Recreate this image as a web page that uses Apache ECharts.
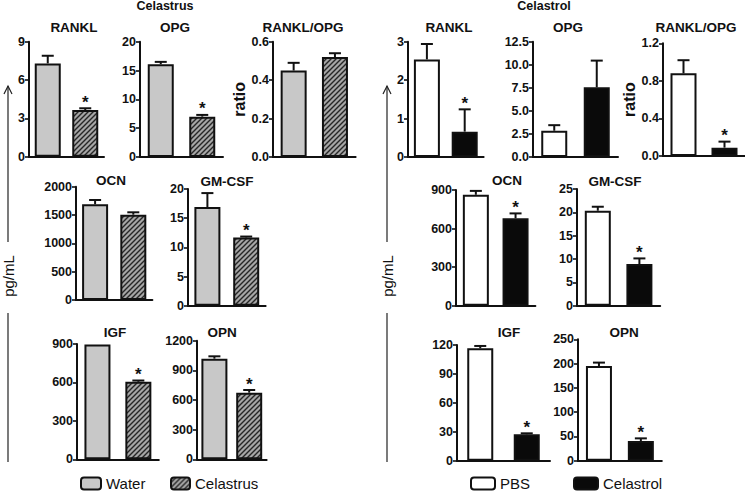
<!DOCTYPE html>
<html><head><meta charset="utf-8">
<script src="https://cdn.jsdelivr.net/npm/echarts@6/dist/echarts.min.js"></script>
<style>html,body{margin:0;padding:0;background:#fff}#c{width:745px;height:491px}</style>
</head><body><div id="c"></div>
<script>
// ---------------- DATA ----------------
const panelNames = ['RANKL', 'OPG', 'RANKL/OPG', 'OCN', 'GM-CSF', 'IGF', 'OPN'];
const leftHeader = 'Celastrus';
const rightHeader = 'Celastrol';
const leftGroups = ['Water', 'Celastrus'];
const rightGroups = ['PBS', 'Celastrol'];

const waterMean     = [7.3, 16.1, 0.45, 1690, 16.9, 897, 1018];
const waterSEM      = [0.6, 0.4, 0.04, 75, 2.4, 0, 24];
const celastrusMean = [3.65, 7.0, 0.52, 1506, 11.7, 605, 674];
const celastrusSEM  = [0.14, 0.3, 0.02, 42, 0.15, 10, 27];
const celastrusSig  = ['*', '*', '', '', '*', '*', '*'];
const leftAxisMax   = [9, 20, 0.6, 2000, 20, 900, 1200];
const leftAxisStep  = [3, 5, 0.2, 500, 5, 300, 300];

const pbsMean       = [2.54, 2.85, 0.88, 863, 20.35, 116.6, 195];
const pbsSEM        = [0.4, 0.6, 0.14, 30, 0.85, 2.4, 7];
const celastrolMean = [0.66, 7.55, 0.089, 680, 8.93, 27.4, 40.6];
const celastrolSEM  = [0.58, 2.9, 0.064, 38, 1.2, 1, 5.4];
const celastrolSig  = ['*', '', '*', '*', '*', '*', '*'];
const rightAxisMax  = [3, 12.5, 1.2, 900, 25, 120, 250];
const rightAxisStep = [1, 2.5, 0.4, 300, 5, 30, 50];

const ratioAxisName = 'ratio';
const unitLabel = 'pg/mL';

// ---------------- LAYOUT (pixels) ----------------
// [left, top, width, height] of each panel's plot area
const leftGrids = [
  [29, 41.7, 75, 115], [140, 41.7, 83, 115.3], [273, 41.7, 82.6, 115.3],
  [76, 186.7, 76.4, 113.3], [188, 189, 77.6, 116.7],
  [77, 344, 81.8, 115.3], [197, 340.7, 69.6, 118.6]
];
const rightGrids = [
  [408, 41.7, 75.6, 115.3], [533, 41.7, 85, 115.3], [663, 43.3, 82, 112.7],
  [456, 190, 79.4, 115.7], [577, 189, 83.2, 116.7],
  [457, 345, 93, 115.7], [578, 339.3, 83.8, 121.4]
];
const leftTitlePos = [[74, 27], [175, 27], [303, 27], [111, 180], [227, 181], [115, 332], [222, 332]];
const rightTitlePos = [[449, 27], [568, 27], [696, 27], [507, 180], [615, 181], [509, 332], [624, 332]];

// ---------------- STYLES ----------------
const INK = '#111';
const FONT = '"Liberation Sans", Arial, Helvetica, sans-serif';

function hatchCanvas() {
  const s = 5, c = document.createElement('canvas');
  c.width = s; c.height = s;
  const g = c.getContext('2d');
  g.fillStyle = '#a6a6a6'; g.fillRect(0, 0, s, s);
  g.strokeStyle = '#262626'; g.lineWidth = 1.4;
  g.beginPath();
  g.moveTo(-1, s + 1); g.lineTo(s + 1, -1);
  g.moveTo(-1, 1); g.lineTo(1, -1);
  g.moveTo(s - 1, s + 1); g.lineTo(s + 1, s - 1);
  g.stroke();
  return c;
}
const hatchFill = { image: hatchCanvas(), repeat: 'repeat' };

const sides = [
  { groups: leftGroups, means: [waterMean, celastrusMean], sems: [waterSEM, celastrusSEM], sig: celastrusSig,
    max: leftAxisMax, step: leftAxisStep, grids: leftGrids, titles: leftTitlePos,
    fills: ['#c8c8c8', hatchFill] },
  { groups: rightGroups, means: [pbsMean, celastrolMean], sems: [pbsSEM, celastrolSEM], sig: celastrolSig,
    max: rightAxisMax, step: rightAxisStep, grids: rightGrids, titles: rightTitlePos,
    fills: ['#ffffff', '#0a0a0a'] }
];

function renderErr(params, api) {
  const x = api.value(0), m = api.value(1), e = api.value(2);
  const star = params.dataIndex === 1 ? api.value(3) : 0;
  const p0 = api.coord([x, m]);
  const p1 = api.coord([x, m + e]);
  const half = 6;
  const children = [];
  if (e > 0) {
    children.push({ type: 'line', shape: { x1: p0[0], y1: p0[1], x2: p1[0], y2: p1[1] }, style: { stroke: INK, lineWidth: 2 } });
    children.push({ type: 'line', shape: { x1: p1[0] - half, y1: p1[1], x2: p1[0] + half, y2: p1[1] }, style: { stroke: INK, lineWidth: 2 } });
  }
  if (star) {
    children.push({ type: 'text', style: { text: '*', x: p1[0], y: p1[1] - 6, align: 'center', verticalAlign: 'middle',
      fontSize: 17, fontWeight: 'bold', fontFamily: FONT, fill: INK } });
  }
  return { type: 'group', children };
}

const grid = [], xAxis = [], yAxis = [], series = [], graphic = [];
let gi = 0;
sides.forEach(side => {
  panelNames.forEach((name, i) => {
    const g = side.grids[i];
    grid.push({ left: g[0], top: g[1], width: g[2], height: g[3], containLabel: false, outerBoundsMode: 'none' });
    xAxis.push({ gridIndex: gi, type: 'category', data: side.groups, boundaryGap: true,
      axisLine: { show: true, lineStyle: { color: INK, width: 2 } },
      axisTick: { show: false }, axisLabel: { show: false }, splitLine: { show: false } });
    const step = side.step[i];
    const isRatio = name === 'RANKL/OPG';
    yAxis.push({ gridIndex: gi, type: 'value', min: 0, max: side.max[i], interval: step,
      name: isRatio ? ratioAxisName : '', nameLocation: 'middle', nameGap: 21, nameRotate: 90,
      nameTextStyle: { fontFamily: FONT, fontWeight: 'bold', fontSize: 16, color: INK },
      axisLine: { show: true, lineStyle: { color: INK, width: 2 } },
      axisTick: { show: true, length: 4, lineStyle: { color: INK, width: 1.6 } },
      axisLabel: { margin: 4, fontFamily: FONT, fontWeight: 'bold', fontSize: 12.5, color: INK,
        formatter: v => (step % 1 !== 0) ? v.toFixed(1) : String(v) },
      splitLine: { show: false } });
    side.groups.forEach((grp, k) => {
      series.push({ type: 'bar', name: grp, xAxisIndex: gi, yAxisIndex: gi, barWidth: 26, barGap: '-100%',
        data: k === 0 ? [side.means[0][i], '-'] : ['-', side.means[1][i]],
        itemStyle: { color: side.fills[k], borderColor: INK, borderWidth: 2 },
        silent: true, animation: false });
    });
    series.push({ type: 'custom', xAxisIndex: gi, yAxisIndex: gi, renderItem: renderErr, silent: true, animation: false,
      data: [[0, side.means[0][i], side.sems[0][i], 0], [1, side.means[1][i], side.sems[1][i], side.sig[i] ? 1 : 0]], z: 5 });
    graphic.push({ type: 'text', x: side.titles[i][0], y: side.titles[i][1], silent: true,
      style: { text: name, align: 'center', verticalAlign: 'middle', fontFamily: FONT, fontWeight: 'bold', fontSize: 13.5, fill: INK } });
    gi++;
  });
});

// headers
graphic.push({ type: 'text', x: 165, y: 6, style: { text: leftHeader, align: 'center', verticalAlign: 'middle', fontFamily: FONT, fontWeight: 'bold', fontSize: 12.5, fill: INK } });
graphic.push({ type: 'text', x: 544, y: 6, style: { text: rightHeader, align: 'center', verticalAlign: 'middle', fontFamily: FONT, fontWeight: 'bold', fontSize: 12.5, fill: INK } });

// pg/mL arrows and labels
[8, 387].forEach(ax => {
  graphic.push({ type: 'line', shape: { x1: ax, y1: 86, x2: ax, y2: 242 }, style: { stroke: '#222', lineWidth: 1.2 } });
  graphic.push({ type: 'polyline', shape: { points: [[ax - 4, 94], [ax, 86], [ax + 4, 94]] }, style: { stroke: '#222', lineWidth: 1.2, fill: null } });
  graphic.push({ type: 'line', shape: { x1: ax, y1: 313, x2: ax, y2: 462 }, style: { stroke: '#222', lineWidth: 1.2 } });
  graphic.push({ type: 'text', x: ax, y: 276, rotation: Math.PI / 2,
    style: { text: unitLabel, align: 'center', verticalAlign: 'middle', fontFamily: FONT, fontSize: 15, fill: INK } });
});

const legTxt = { fontFamily: FONT, fontSize: 15, color: INK };
const legend = [
  { data: [leftGroups[0]], left: 80, top: 476, itemWidth: 20, itemHeight: 12, padding: 0, selectedMode: false, textStyle: legTxt },
  { data: [leftGroups[1]], left: 170, top: 476, itemWidth: 19, itemHeight: 12, padding: 0, selectedMode: false, textStyle: legTxt },
  { data: [rightGroups[0]], left: 470, top: 476, itemWidth: 24, itemHeight: 12, padding: 0, selectedMode: false, textStyle: legTxt },
  { data: [rightGroups[1]], left: 573, top: 476, itemWidth: 24, itemHeight: 12, padding: 0, selectedMode: false, textStyle: legTxt }
];

const chart = echarts.init(document.getElementById('c'), null, { renderer: 'svg' });
chart.setOption({ backgroundColor: '#fff', animation: false, grid, xAxis, yAxis, series, graphic, legend });
</script></body></html>
